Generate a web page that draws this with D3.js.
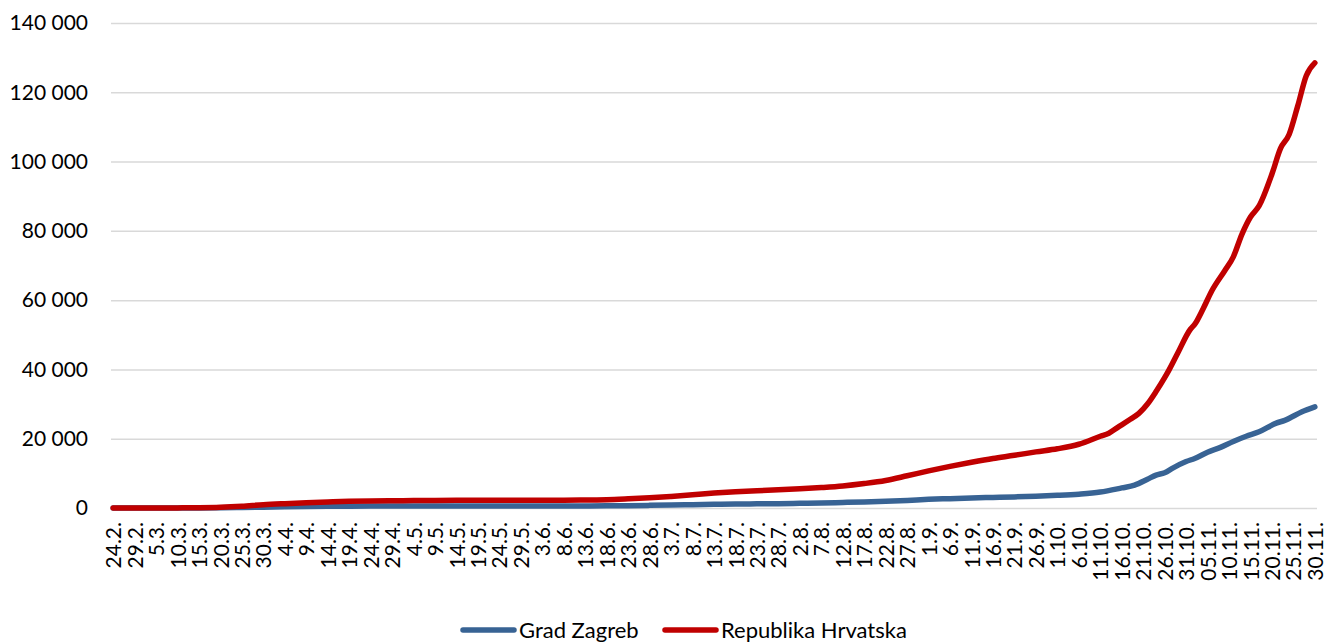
<!DOCTYPE html>
<meta charset="utf-8">
<style>
  body { margin: 0; background: #fff; }
  svg { display: block; }
  text { font-family: Lato, "Open Sans", sans-serif; fill: #000; }
  .grid line { stroke: #d9d9d9; stroke-width: 1.5px; }
  .grid path { display: none; }
</style>
<body>
<script src="https://d3js.org/d3.v7.min.js"></script>
<script>
// x axis labels, one every 5 days (24.2. .. 30.11.)
var tickLabels = ["24.2.","29.2.","5.3.","10.3.","15.3.","20.3.","25.3.","30.3.","4.4.","9.4.",
  "14.4.","19.4.","24.4.","29.4.","4.5.","9.5.","14.5.","19.5.","24.5.","29.5.",
  "3.6.","8.6.","13.6.","18.6.","23.6.","28.6.","3.7.","8.7.","13.7.","18.7.",
  "23.7.","28.7.","2.8.","7.8.","12.8.","17.8.","22.8.","27.8.","1.9.","6.9.",
  "11.9.","16.9.","21.9.","26.9.","1.10.","6.10.","11.10.","16.10.","21.10.","26.10.",
  "31.10.","05.11.","10.11.","15.11.","20.11.","25.11.","30.11."];
var dayCount = 281;

// Republika Hrvatska, day index since 24.2. and cumulative cases
var hrDays  = [0,5,10,15,20,25,30,35,40,45,50,55,60,65,70,75,80,85,90,95,100,105,110,115,120,
  125,130,135,140,145,150,155,160,165,170,175,180,185,190,195,200,205,210,215,220,225,230,232,
  234,237,239,241,243,245,246,248,251,252,254,256,259,261,263,265,267,270,272,274,276,278,280];
var hrCases = [1,3,10,30,70,200,500,950,1250,1500,1720,1920,2030,2090,2130,2190,2220,2235,2245,2250,2255,2260,2290,2400,2650,
  2950,3350,3800,4300,4700,5000,5250,5550,5900,6350,7050,7950,9300,10700,12000,13200,14300,15200,16200,17100,18400,20700,21600,
  23200,25600,27300,30000,33600,37600,39800,44600,51600,53000,57600,62700,68500,72500,79000,84000,87200,96400,103800,107800,116000,124800,128500];

// Grad Zagreb
var zgDays  = [0,5,10,15,20,25,30,35,40,45,50,55,60,65,70,75,80,85,90,95,100,105,110,115,120,
  125,130,135,140,145,150,155,160,165,170,175,180,185,190,195,200,205,210,215,220,225,230,235,
  238,241,243,245,247,250,252,255,258,261,264,267,271,273,277,280];
var zgCases = [0,0,0,5,15,60,150,250,350,430,490,530,560,580,590,600,600,600,600,600,600,600,610,630,680,
  760,850,950,1050,1150,1200,1250,1350,1450,1600,1750,1950,2200,2500,2700,2900,3050,3200,3400,3650,4000,4600,5800,
  6600,8300,9500,10200,11600,13400,14300,16100,17500,19200,20700,22000,24500,25300,27800,29200];

var yTicks = [0,20000,40000,60000,80000,100000,120000,140000];

var seriesNames  = ["Grad Zagreb", "Republika Hrvatska"];
var seriesColors = ["#386394", "#c00000"];

var width = 1328, height = 642;
var margin = {top: 23, right: 11, bottom: 134, left: 111};

var svg = d3.select("body").append("svg")
  .attr("width", width)
  .attr("height", height);

var x = d3.scalePoint()
  .domain(d3.range(dayCount))
  .range([margin.left, width - margin.right])
  .padding(0.5);

var y = d3.scaleLinear()
  .domain([0, 140000])
  .range([height - margin.bottom, margin.top]);

var fmt = function(d){ return d3.format(",")(d).replace(/,/g, " "); };

// gridlines
svg.append("g")
  .attr("class", "grid")
  .attr("transform", "translate(" + margin.left + ",0)")
  .call(d3.axisLeft(y).tickValues(yTicks).tickSize(-(width - margin.left - margin.right)).tickFormat(""));

// y labels
var yAxis = svg.append("g")
  .attr("transform", "translate(" + margin.left + ",0)")
  .call(d3.axisLeft(y).tickValues(yTicks).tickFormat(fmt).tickSize(0).tickPadding(23));
yAxis.select(".domain").remove();
yAxis.selectAll("text").style("font-size", "21px");

// x labels
var xAxis = svg.append("g")
  .attr("transform", "translate(0," + y(0) + ")")
  .call(d3.axisBottom(x)
    .tickValues(d3.range(0, dayCount, 5))
    .tickFormat(function(d){ return tickLabels[d / 5]; })
    .tickSize(0));
xAxis.select(".domain").remove();
xAxis.selectAll("text")
  .style("font-size", "21px")
  .attr("text-anchor", "end")
  .attr("transform", "rotate(-90)")
  .attr("x", -14)
  .attr("y", 0)
  .attr("dy", "0.36em");

var line = d3.line()
  .x(function(d){ return x(d[0]); })
  .y(function(d){ return y(d[1]); })
  .curve(d3.curveMonotoneX);

var series = [
  d3.zip(zgDays, zgCases),
  d3.zip(hrDays, hrCases)
];

svg.selectAll(".series")
  .data(series)
  .enter().append("path")
  .attr("class", "series")
  .attr("d", line)
  .attr("fill", "none")
  .attr("stroke", function(d, i){ return seriesColors[i]; })
  .attr("stroke-width", 5.5)
  .attr("stroke-linecap", "round")
  .attr("stroke-linejoin", "round");

// legend
var legendPos = [461, 663];
var legend = svg.selectAll(".legend")
  .data(seriesNames)
  .enter().append("g")
  .attr("class", "legend")
  .attr("transform", function(d, i){ return "translate(" + legendPos[i] + ",630)"; });

legend.append("line")
  .attr("x1", 2).attr("x2", 53)
  .attr("stroke", function(d, i){ return seriesColors[i]; })
  .attr("stroke-width", 5.5)
  .attr("stroke-linecap", "round");

legend.append("text")
  .attr("x", 58)
  .attr("dy", "0.36em")
  .style("font-size", "22px")
  .text(function(d){ return d; });
</script>
</body>
